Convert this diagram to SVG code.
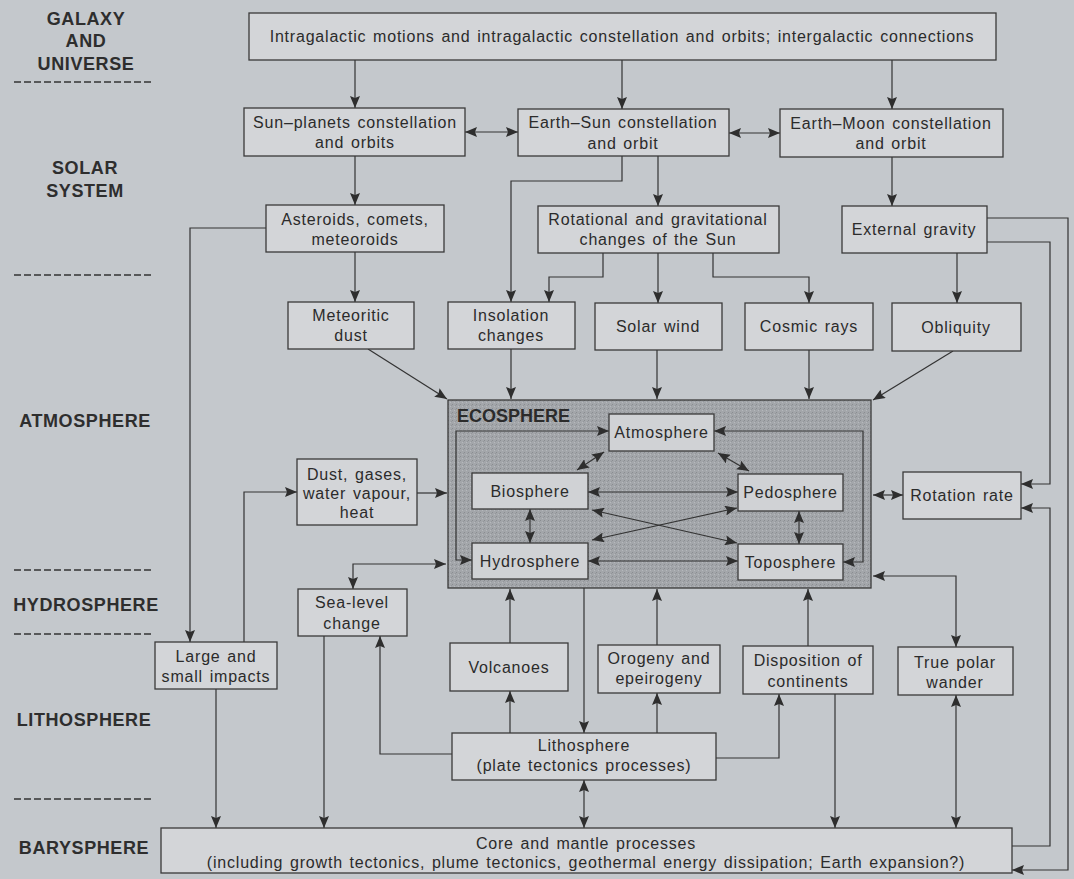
<svg xmlns="http://www.w3.org/2000/svg" width="1074" height="879" viewBox="0 0 1074 879">
<defs>
<marker id="ah" viewBox="0 0 12 10" refX="12" refY="5" markerWidth="12" markerHeight="10" markerUnits="userSpaceOnUse" orient="auto-start-reverse">
<path d="M0,0 L12,5 L0,10 L2,5 z" fill="#2e2e2e"/>
</marker>
<pattern id="stip" width="4" height="4" patternUnits="userSpaceOnUse">
<rect width="4" height="4" fill="#a3a6aa"/>
<rect x="0" y="0" width="1" height="1" fill="#8a8d91"/>
<rect x="2" y="2" width="1" height="1" fill="#b6b9bd"/>
<rect x="3" y="1" width="1" height="1" fill="#94979b"/>
</pattern>
<style>
.bg{fill:#c4c8cc}
.box{fill:#d3d5d8;stroke:#3a3a3a;stroke-width:1.3}
.ibox{fill:#d0d2d5;stroke:#3a3a3a;stroke-width:1.3}
.t{font-family:"Liberation Sans",Arial,sans-serif;font-size:16px;letter-spacing:0.8px;word-spacing:1.5px;fill:#2b2b2b;text-anchor:middle;dominant-baseline:central}
.lab{font-family:"Liberation Sans",Arial,sans-serif;font-size:18px;font-weight:bold;letter-spacing:0.6px;fill:#2e2e2e;text-anchor:middle}
.dash{stroke:#333;stroke-width:1.5;stroke-dasharray:7 3;fill:none}
.c{fill:none;stroke:#333;stroke-width:1.2;marker-end:url(#ah)}
.d{fill:none;stroke:#333;stroke-width:1.2;marker-start:url(#ah);marker-end:url(#ah)}
.l{fill:none;stroke:#333;stroke-width:1.2}
</style>
</defs>
<rect class="bg" x="0" y="0" width="1074" height="879"/>

<g id="layers">
<text class="lab" x="86" y="25">GALAXY</text>
<text class="lab" x="86" y="47">AND</text>
<text class="lab" x="86" y="70">UNIVERSE</text>
<line class="dash" x1="14" y1="82" x2="151" y2="82"/>
<text class="lab" x="85" y="174">SOLAR</text>
<text class="lab" x="85" y="197">SYSTEM</text>
<line class="dash" x1="14" y1="275" x2="151" y2="275"/>
<text class="lab" x="85" y="427">ATMOSPHERE</text>
<line class="dash" x1="14" y1="570" x2="151" y2="570"/>
<text class="lab" x="86" y="611">HYDROSPHERE</text>
<line class="dash" x1="14" y1="634" x2="151" y2="634"/>
<text class="lab" x="84" y="726">LITHOSPHERE</text>
<line class="dash" x1="14" y1="799" x2="151" y2="799"/>
<text class="lab" x="84" y="854">BARYSPHERE</text>
</g>

<g id="ecosphere">
<rect x="448" y="400" width="423" height="188" fill="url(#stip)" stroke="#3a3a3a" stroke-width="1.3"/>
<text x="457" y="422" font-family="Liberation Sans, Arial, sans-serif" font-size="18" font-weight="bold" fill="#2b2b2b">ECOSPHERE</text>
</g>

<g id="connectors">
<path class="c" d="M355,60 V108"/>
<path class="c" d="M622,60 V109"/>
<path class="c" d="M892,60 V109"/>
<path class="d" d="M465,132 H518"/>
<path class="d" d="M729,133 H780"/>
<path class="c" d="M355,156 V205"/>
<path class="c" d="M622,156 V181 H511 V302"/>
<path class="c" d="M658,156 V206"/>
<path class="c" d="M892,157 V206"/>
<path class="c" d="M355,252 V302"/>
<path class="c" d="M266,228 H190 V642"/>
<path class="c" d="M603,253 V277 H549 V302"/>
<path class="c" d="M658,253 V303"/>
<path class="c" d="M713,253 V277 H809 V303"/>
<path class="c" d="M957,253 V303"/>
<path class="c" d="M987,218 H1068 V870 H1012"/>
<path class="c" d="M987,242 H1050 V484 H1021"/>
<path class="c" d="M1012,846 H1050 V508 H1021"/>
<path class="c" d="M368,349 L447,399"/>
<path class="c" d="M511,349 V399"/>
<path class="c" d="M657,350 V399"/>
<path class="c" d="M809,350 V399"/>
<path class="c" d="M953,351 L873,400"/>
<path class="c" d="M417,493 H447"/>
<path class="c" d="M244,642 V492 H297"/>
<path class="d" d="M873,495 H903"/>
<path class="d" d="M873,576 H956 V647"/>
<path class="d" d="M446,564 H353 V589"/>
<path class="c" d="M216,689 V828"/>
<path class="c" d="M324,636 V828"/>
<path class="c" d="M452,754 H380 V636"/>
<path class="c" d="M510,643 V589"/>
<path class="c" d="M510,733 V691"/>
<path class="c" d="M584,588 V733"/>
<path class="d" d="M584,780 V828"/>
<path class="c" d="M657,645 V589"/>
<path class="c" d="M657,733 V693"/>
<path class="c" d="M808,646 V589"/>
<path class="c" d="M716,758 H779 V694"/>
<path class="c" d="M835,694 V828"/>
<path class="d" d="M956,695 V828"/>
<path class="d" d="M609,431 H456 V560 H472"/>
<path class="d" d="M714,431 H863 V562 H843"/>
<path class="d" d="M604,452 L577,470"/>
<path class="d" d="M718,453 L749,471"/>
<path class="d" d="M588,492 H738"/>
<path class="d" d="M588,561 H738"/>
<path class="d" d="M530,509 V543"/>
<path class="d" d="M799,511 V544"/>
<path class="d" d="M592,510 L737,543"/>
<path class="d" d="M737,508 L592,540"/>
</g>

<g id="galaxy">
<rect class="box" x="249" y="13" width="747" height="47"/>
<text class="t" x="622" y="36.5">Intragalactic motions and intragalactic constellation and orbits; intergalactic connections</text>
</g>
<g id="sun-planets">
<rect class="box" x="244" y="108" width="221" height="48"/>
<text class="t" x="355" y="122">Sun–planets constellation</text>
<text class="t" x="355" y="142">and orbits</text>
</g>
<g id="earth-sun">
<rect class="box" x="518" y="109" width="211" height="47"/>
<text class="t" x="623" y="122">Earth–Sun constellation</text>
<text class="t" x="623" y="143">and orbit</text>
</g>
<g id="earth-moon">
<rect class="box" x="780" y="109" width="223" height="48"/>
<text class="t" x="891" y="123">Earth–Moon constellation</text>
<text class="t" x="891" y="143">and orbit</text>
</g>
<g id="asteroids">
<rect class="box" x="266" y="205" width="178" height="47"/>
<text class="t" x="355" y="219">Asteroids, comets,</text>
<text class="t" x="355" y="239">meteoroids</text>
</g>
<g id="rotational">
<rect class="box" x="538" y="206" width="241" height="47"/>
<text class="t" x="658" y="219">Rotational and gravitational</text>
<text class="t" x="658" y="239">changes of the Sun</text>
</g>
<g id="external-gravity">
<rect class="box" x="842" y="206" width="145" height="47"/>
<text class="t" x="914" y="229.5">External gravity</text>
</g>
<g id="meteoritic-dust">
<rect class="box" x="288" y="302" width="126" height="47"/>
<text class="t" x="351" y="315">Meteoritic</text>
<text class="t" x="351" y="335">dust</text>
</g>
<g id="insolation">
<rect class="box" x="448" y="302" width="127" height="47"/>
<text class="t" x="511" y="315">Insolation</text>
<text class="t" x="511" y="335">changes</text>
</g>
<g id="solar-wind">
<rect class="box" x="595" y="303" width="127" height="47"/>
<text class="t" x="658" y="326.5">Solar wind</text>
</g>
<g id="cosmic-rays">
<rect class="box" x="745" y="303" width="128" height="47"/>
<text class="t" x="809" y="326.5">Cosmic rays</text>
</g>
<g id="obliquity">
<rect class="box" x="892" y="303" width="129" height="48"/>
<text class="t" x="956" y="327">Obliquity</text>
</g>
<g id="dust-gases">
<rect class="box" x="297" y="459" width="120" height="66"/>
<text class="t" x="357" y="474">Dust, gases,</text>
<text class="t" x="357" y="493">water vapour,</text>
<text class="t" x="357" y="512">heat</text>
</g>
<g id="rotation-rate">
<rect class="box" x="903" y="472" width="118" height="47"/>
<text class="t" x="962" y="495.5">Rotation rate</text>
</g>
<g id="atmosphere">
<rect class="ibox" x="609" y="414" width="105" height="37"/>
<text class="t" x="661.5" y="432.5">Atmosphere</text>
</g>
<g id="biosphere">
<rect class="ibox" x="472" y="473" width="116" height="36"/>
<text class="t" x="530" y="491">Biosphere</text>
</g>
<g id="pedosphere">
<rect class="ibox" x="738" y="474" width="105" height="37"/>
<text class="t" x="790.5" y="492.5">Pedosphere</text>
</g>
<g id="hydrosphere">
<rect class="ibox" x="472" y="543" width="116" height="36"/>
<text class="t" x="530" y="561">Hydrosphere</text>
</g>
<g id="toposphere">
<rect class="ibox" x="738" y="544" width="105" height="36"/>
<text class="t" x="790.5" y="562">Toposphere</text>
</g>
<g id="sea-level">
<rect class="box" x="298" y="589" width="109" height="47"/>
<text class="t" x="352" y="602">Sea-level</text>
<text class="t" x="352" y="623">change</text>
</g>
<g id="impacts">
<rect class="box" x="155" y="642" width="122" height="47"/>
<text class="t" x="216" y="656">Large and</text>
<text class="t" x="216" y="676">small impacts</text>
</g>
<g id="volcanoes">
<rect class="box" x="450" y="643" width="118" height="48"/>
<text class="t" x="509" y="667">Volcanoes</text>
</g>
<g id="orogeny">
<rect class="box" x="598" y="645" width="122" height="48"/>
<text class="t" x="659" y="658">Orogeny and</text>
<text class="t" x="659" y="678">epeirogeny</text>
</g>
<g id="disposition">
<rect class="box" x="743" y="646" width="130" height="48"/>
<text class="t" x="808" y="660">Disposition of</text>
<text class="t" x="808" y="681">continents</text>
</g>
<g id="true-polar-wander">
<rect class="box" x="898" y="647" width="115" height="48"/>
<text class="t" x="955" y="662">True polar</text>
<text class="t" x="955" y="682">wander</text>
</g>
<g id="lithosphere">
<rect class="box" x="452" y="733" width="264" height="47"/>
<text class="t" x="584" y="745">Lithosphere</text>
<text class="t" x="584" y="765">(plate tectonics processes)</text>
</g>
<g id="core-mantle">
<rect class="box" x="161" y="828" width="851" height="45"/>
<text class="t" x="586" y="843">Core and mantle processes</text>
<text class="t" x="586" y="862">(including growth tectonics, plume tectonics, geothermal energy dissipation; Earth expansion?)</text>
</g>
</svg>
